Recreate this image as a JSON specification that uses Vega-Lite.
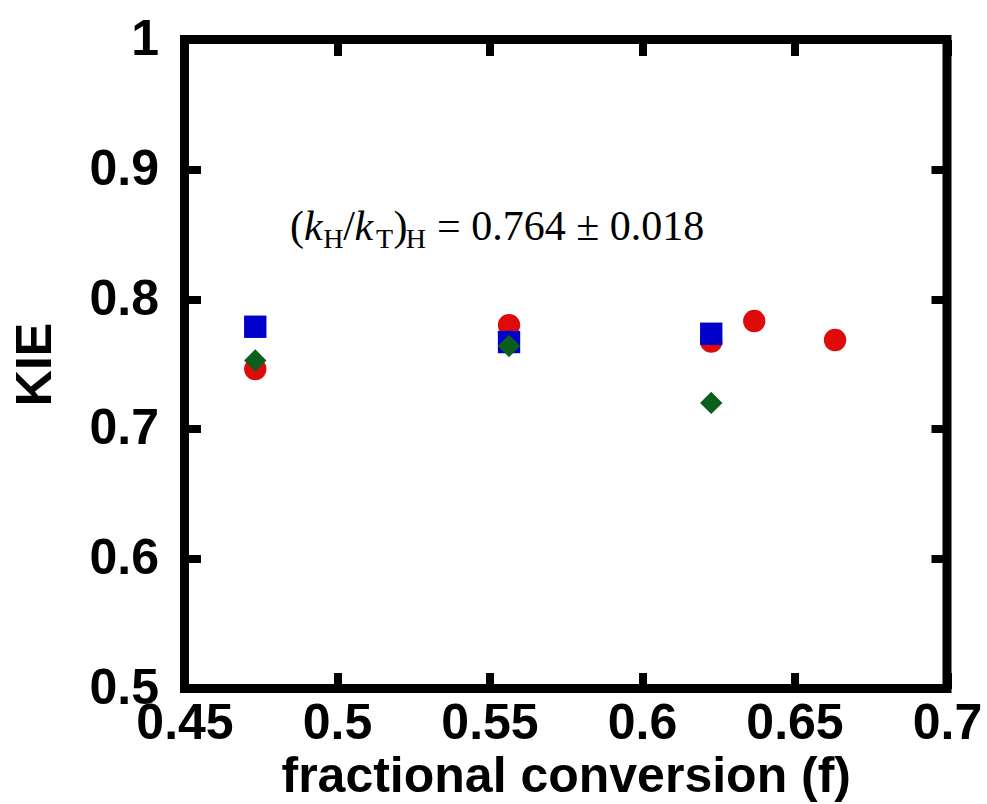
{
  "$schema": "https://vega.github.io/schema/vega-lite/v6.json",
  "width": 762.5,
  "height": 649,
  "autosize": {"type": "none"},
  "padding": {"left": 184.5, "top": 39.5, "right": 40, "bottom": 115},
  "background": "white",
  "config": {
    "view": {"stroke": "black", "strokeWidth": 9},
    "axis": {
      "domain": false,
      "grid": false,
      "tickColor": "black",
      "tickSize": -16,
      "tickWidth": 8,
      "labelFont": "Liberation Sans",
      "labelFontWeight": "bold",
      "labelFontSize": 50,
      "labelColor": "black",
      "labelOverlap": false,
      "labelFlush": false,
      "titleFont": "Liberation Sans",
      "titleFontWeight": "bold",
      "titleFontSize": 50,
      "titleColor": "black"
    }
  },
  "datasets": {
    "pts": [
      {"f": 0.4732, "kie": 0.7461, "series": "A"},
      {"f": 0.5564, "kie": 0.7800, "series": "A"},
      {"f": 0.6227, "kie": 0.7672, "series": "A"},
      {"f": 0.6368, "kie": 0.7831, "series": "A"},
      {"f": 0.6633, "kie": 0.7685, "series": "A"},
      {"f": 0.4732, "kie": 0.7787, "series": "B"},
      {"f": 0.5564, "kie": 0.7669, "series": "B"},
      {"f": 0.6227, "kie": 0.7733, "series": "B"},
      {"f": 0.4732, "kie": 0.7527, "series": "C"},
      {"f": 0.5564, "kie": 0.7639, "series": "C"},
      {"f": 0.6227, "kie": 0.7200, "series": "C"}
    ],
    "note": [{"f": 0.4846, "kie": 0.8455}]
  },
  "layer": [
    {
      "data": {"name": "pts"},
      "mark": {"type": "point", "filled": true, "opacity": 1, "size": 500},
      "encoding": {
        "x": {
          "field": "f", "type": "quantitative",
          "scale": {"domain": [0.45, 0.7], "nice": false, "zero": false},
          "axis": {"orient": "bottom", "values": [0.45, 0.5, 0.55, 0.6, 0.65, 0.7], "format": "~g", "labelPadding": 26, "title": "fractional conversion (f)", "titlePadding": 3}
        },
        "y": {
          "field": "kie", "type": "quantitative",
          "scale": {"domain": [0.5, 1], "nice": false, "zero": false},
          "axis": {"orient": "left", "values": [0.5, 0.6, 0.7, 0.8, 0.9, 1], "format": "~g", "labelPadding": 42, "title": "KIE", "titlePadding": 28}
        },
        "color": {"field": "series", "type": "nominal", "scale": {"domain": ["A", "B", "C"], "range": ["#DF0A0A", "#0000CC", "#0B5E1C"]}, "legend": null},
        "shape": {"field": "series", "type": "nominal", "scale": {"domain": ["A", "B", "C"], "range": ["circle", "square", "diamond"]}, "legend": null}
      }
    },
    {
      "data": {"name": "note"},
      "mark": {"type": "text", "text": "(", "font": "Liberation Serif", "fontSize": 42, "align": "left", "baseline": "alphabetic", "color": "black", "dx": 0},
      "encoding": {
        "x": {"field": "f", "type": "quantitative", "axis": {"orient": "top", "values": [0.45, 0.5, 0.55, 0.6, 0.65, 0.7], "labels": false, "title": null}},
        "y": {"field": "kie", "type": "quantitative", "axis": {"orient": "right", "values": [0.5, 0.6, 0.7, 0.8, 0.9, 1], "labels": false, "title": null}}
      }
    },
    {
      "data": {"name": "note"},
      "mark": {"type": "text", "text": "k", "font": "Liberation Serif", "fontStyle": "italic", "fontSize": 42, "align": "left", "baseline": "alphabetic", "color": "black", "dx": 14},
      "encoding": {"x": {"field": "f", "type": "quantitative", "axis": null}, "y": {"field": "kie", "type": "quantitative", "axis": null}}
    },
    {
      "data": {"name": "note"},
      "mark": {"type": "text", "text": "H", "font": "Liberation Serif", "fontSize": 28, "align": "left", "baseline": "alphabetic", "color": "black", "dx": 33.3, "dy": 8},
      "encoding": {"x": {"field": "f", "type": "quantitative", "axis": null}, "y": {"field": "kie", "type": "quantitative", "axis": null}}
    },
    {
      "data": {"name": "note"},
      "mark": {"type": "text", "text": "/", "font": "Liberation Serif", "fontSize": 42, "align": "left", "baseline": "alphabetic", "color": "black", "dx": 53.3},
      "encoding": {"x": {"field": "f", "type": "quantitative", "axis": null}, "y": {"field": "kie", "type": "quantitative", "axis": null}}
    },
    {
      "data": {"name": "note"},
      "mark": {"type": "text", "text": "k", "font": "Liberation Serif", "fontStyle": "italic", "fontSize": 42, "align": "left", "baseline": "alphabetic", "color": "black", "dx": 64.5},
      "encoding": {"x": {"field": "f", "type": "quantitative", "axis": null}, "y": {"field": "kie", "type": "quantitative", "axis": null}}
    },
    {
      "data": {"name": "note"},
      "mark": {"type": "text", "text": "T", "font": "Liberation Serif", "fontSize": 28, "align": "left", "baseline": "alphabetic", "color": "black", "dx": 86, "dy": 8},
      "encoding": {"x": {"field": "f", "type": "quantitative", "axis": null}, "y": {"field": "kie", "type": "quantitative", "axis": null}}
    },
    {
      "data": {"name": "note"},
      "mark": {"type": "text", "text": ")", "font": "Liberation Serif", "fontSize": 42, "align": "left", "baseline": "alphabetic", "color": "black", "dx": 103.5},
      "encoding": {"x": {"field": "f", "type": "quantitative", "axis": null}, "y": {"field": "kie", "type": "quantitative", "axis": null}}
    },
    {
      "data": {"name": "note"},
      "mark": {"type": "text", "text": "H", "font": "Liberation Serif", "fontSize": 28, "align": "left", "baseline": "alphabetic", "color": "black", "dx": 115.8, "dy": 8},
      "encoding": {"x": {"field": "f", "type": "quantitative", "axis": null}, "y": {"field": "kie", "type": "quantitative", "axis": null}}
    },
    {
      "data": {"name": "note"},
      "mark": {"type": "text", "text": "= 0.764 ± 0.018", "font": "Liberation Serif", "fontSize": 42, "align": "left", "baseline": "alphabetic", "color": "black", "dx": 147},
      "encoding": {"x": {"field": "f", "type": "quantitative", "axis": null}, "y": {"field": "kie", "type": "quantitative", "axis": null}}
    }
  ]
}
